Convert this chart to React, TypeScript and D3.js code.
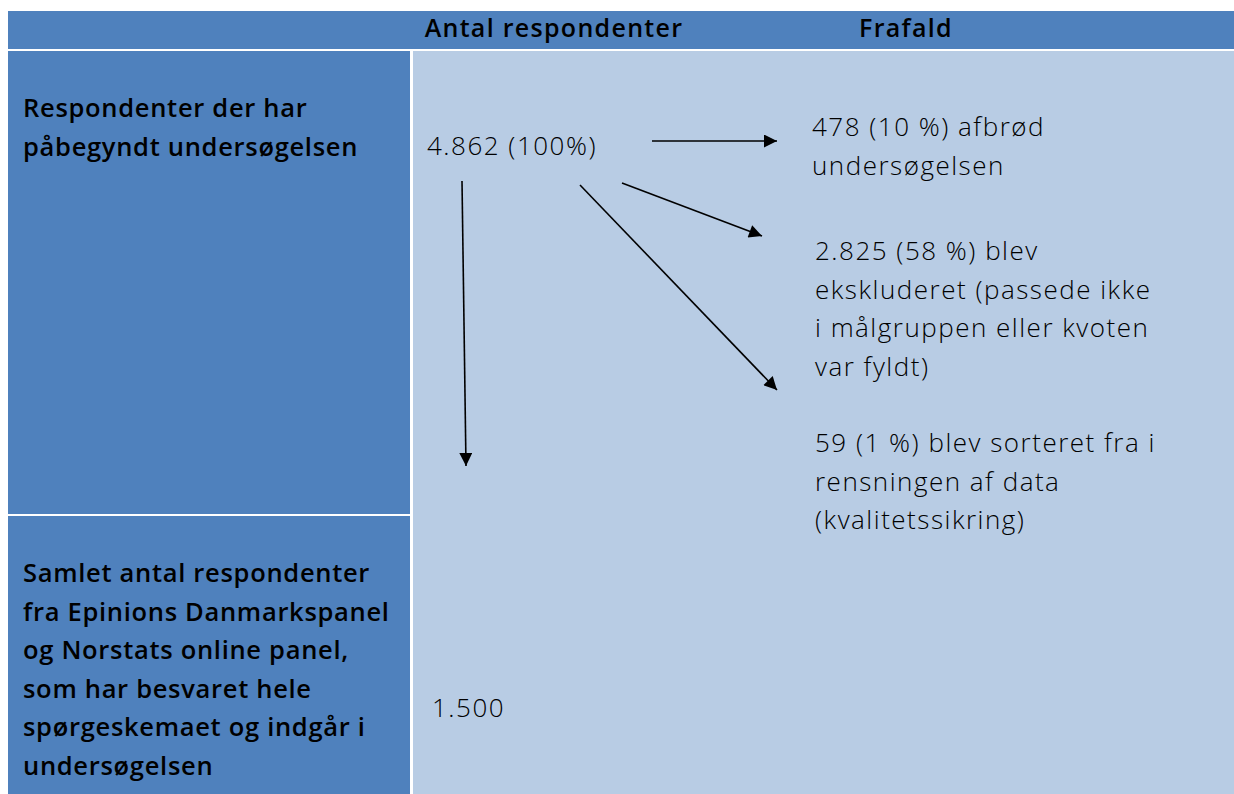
import React, { useEffect, useRef } from "react";
import * as d3 from "d3";

// column headers
const headers = ["Antal respondenter", "Frafald"];

// row labels (left column), one array of lines per row
const rowStarted = ["Respondenter der har", "påbegyndt undersøgelsen"];
const rowFinal = [
  "Samlet antal respondenter",
  "fra Epinions Danmarkspanel",
  "og Norstats online panel,",
  "som har besvaret hele",
  "spørgeskemaet og indgår i",
  "undersøgelsen",
];

// respondent counts
const counts = ["4.862 (100%)", "1.500"];

// dropout groups
const dropAborted = ["478 (10 %) afbrød", "undersøgelsen"];
const dropExcluded = [
  "2.825 (58 %) blev",
  "ekskluderet (passede ikke",
  "i målgruppen eller kvoten",
  "var fyldt)",
];
const dropCleaned = ["59 (1 %) blev sorteret fra i", "rensningen af data", "(kvalitetssikring)"];

const FlowTable: React.FC<{ width?: number; height?: number }> = ({
  width = 1234,
  height = 794,
}) => {
  const svgRef = useRef<SVGSVGElement>(null);

  useEffect(() => {
    if (!svgRef.current) return;
    const svg = d3.select(svgRef.current);
    svg.selectAll("*").remove();

    const dark = "#4f81bd";
    const light = "#b8cce4";
    const font = "'Open Sans', sans-serif";
    const lineH = 38.5;

    const left = 8;
    const headerTop = 11;
    const headerBottom = 49;
    const bodyTop = 51;
    const colSplit = 410;
    const rowSplit = 514;

    svg.attr("viewBox", `0 0 ${width} ${height}`);
    svg.append("rect").attr("width", width).attr("height", height).attr("fill", "#fff");

    // header bar
    svg
      .append("rect")
      .attr("x", left)
      .attr("y", headerTop)
      .attr("width", width - left)
      .attr("height", headerBottom - headerTop)
      .attr("fill", dark);

    // left cells
    svg
      .append("rect")
      .attr("x", left)
      .attr("y", bodyTop)
      .attr("width", colSplit - left)
      .attr("height", rowSplit - bodyTop)
      .attr("fill", dark);
    svg
      .append("rect")
      .attr("x", left)
      .attr("y", rowSplit + 2)
      .attr("width", colSplit - left)
      .attr("height", height - rowSplit - 2)
      .attr("fill", dark);

    // right panel
    svg
      .append("rect")
      .attr("x", colSplit + 3)
      .attr("y", bodyTop)
      .attr("width", width - colSplit - 3)
      .attr("height", height - bodyTop)
      .attr("fill", light);

    // header text
    const headerX = [554, 906];
    svg
      .append("g")
      .selectAll("text")
      .data(headers)
      .join("text")
      .attr("x", (_, i) => headerX[i])
      .attr("y", 37)
      .attr("text-anchor", "middle")
      .attr("font-family", font)
      .attr("font-weight", 600)
      .attr("font-size", 25)
      .attr("letter-spacing", 1.3)
      .attr("fill", "#000")
      .text((d) => d);

    const block = (lines: string[], x: number, y: number, bold: boolean) => {
      svg
        .append("g")
        .selectAll("text")
        .data(lines)
        .join("text")
        .attr("x", x)
        .attr("y", (_, i) => y + i * lineH)
        .attr("font-family", font)
        .attr("font-weight", bold ? 600 : 300)
        .attr("font-size", bold ? 25.5 : 26)
        .attr("letter-spacing", bold ? 0.7 : 1.5)
        .attr("fill", "#000")
        .text((d) => d);
    };

    block(rowStarted, 23, 117, true);
    block(rowFinal, 23, 582, true);
    block([counts[0]], 427, 155, false);
    block([counts[1]], 432, 717, false);
    block(dropAborted, 812, 136, false);
    block(dropExcluded, 815, 260, false);
    block(dropCleaned, 815, 452, false);

    // arrows
    svg
      .append("defs")
      .append("marker")
      .attr("id", "head")
      .attr("viewBox", "0 0 10 10")
      .attr("refX", 10)
      .attr("refY", 5)
      .attr("markerUnits", "userSpaceOnUse")
      .attr("markerWidth", 15)
      .attr("markerHeight", 13)
      .attr("orient", "auto")
      .append("path")
      .attr("d", "M0,0L10,5L0,10Z")
      .attr("fill", "#000");

    const arrows: [number, number][][] = [
      [[652, 141], [777, 141]],
      [[622, 183], [762, 236]],
      [[580, 185], [777, 390]],
      [[462, 181], [466, 466]],
    ];
    const line = d3.line();
    svg
      .append("g")
      .selectAll("path")
      .data(arrows)
      .join("path")
      .attr("d", (d) => line(d))
      .attr("stroke", "#000")
      .attr("stroke-width", 1.6)
      .attr("fill", "none")
      .attr("marker-end", "url(#head)");
  }, [width, height]);

  return (
    <svg
      ref={svgRef}
      width={width}
      height={height}
      style={{ position: "absolute", left: 0, top: 0 }}
    />
  );
};

export default function App() {
  return <FlowTable />;
}
